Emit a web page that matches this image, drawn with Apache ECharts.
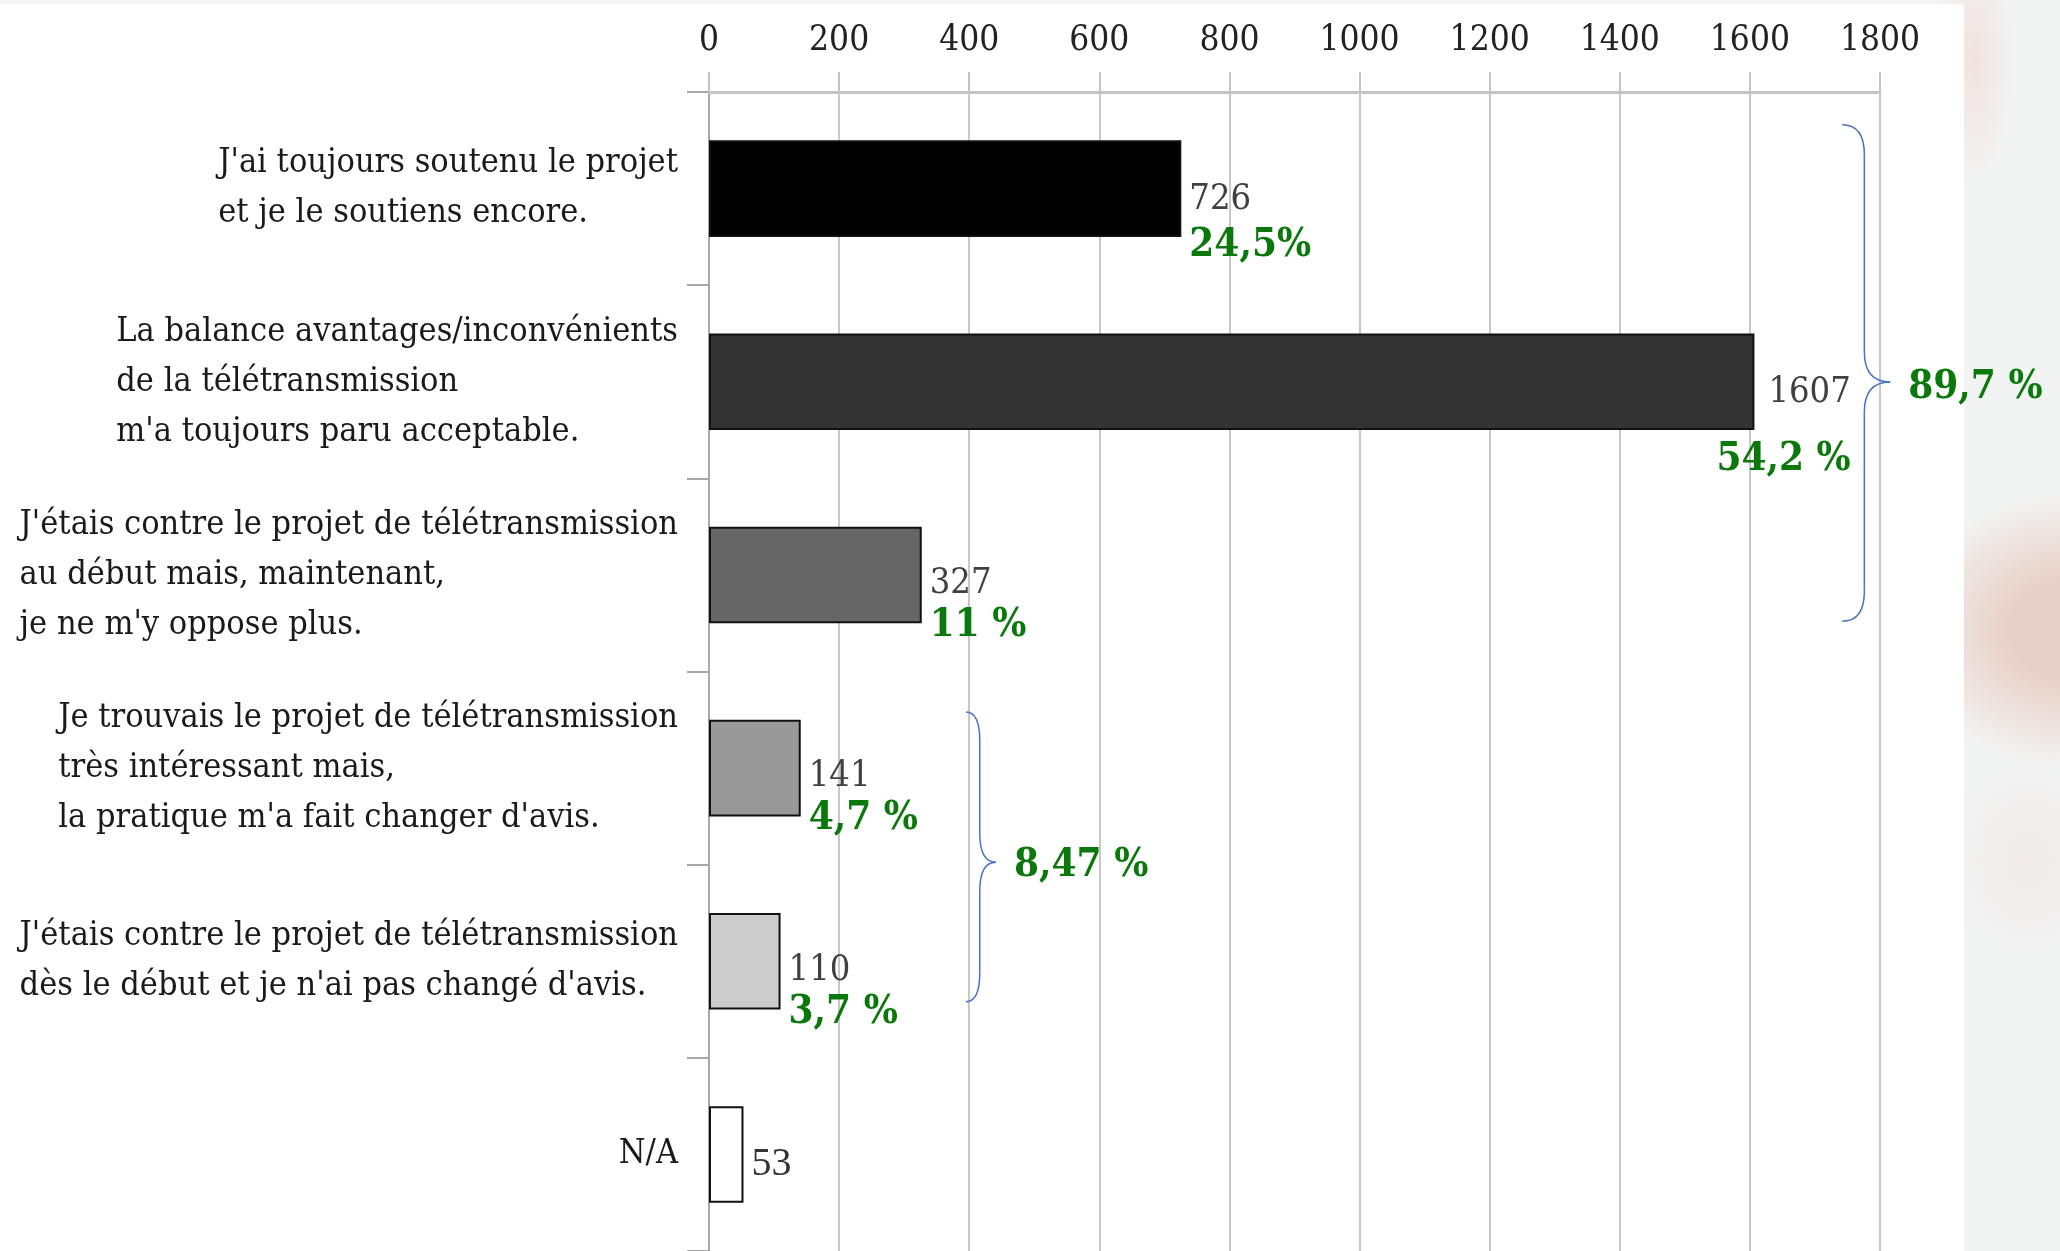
<!DOCTYPE html>
<html>
<head>
<meta charset="utf-8">
<script src="https://cdn.jsdelivr.net/npm/echarts@6/dist/echarts.min.js"></script>
<style>
  html, body { margin: 0; padding: 0; }
  body {
    width: 2060px; height: 1251px; overflow: hidden; position: relative;
    background:
      radial-gradient(ellipse 170px 140px at 2070px 630px, rgba(231,206,197,0.95) 35%, rgba(231,206,197,0) 100%),
      radial-gradient(ellipse 40px 130px at 1975px 60px, rgba(240,222,218,0.8), rgba(240,222,218,0) 100%),
      radial-gradient(ellipse 90px 110px at 2030px 860px, rgba(236,216,212,0.35), rgba(236,216,212,0) 100%),
      #f2f4f4;
  }
  #paper { position: absolute; left: 0; top: 4px; width: 1964px; height: 1247px; background: #fff; }
  #chart { position: absolute; left: 0; top: 0; width: 2060px; height: 1251px; }
</style>
</head>
<body>
<div id="paper"></div>
<div id="chart"></div>
<script>
// données
const categories = [
  "J'ai toujours soutenu le projet\net je le soutiens encore.",
  "La balance avantages/inconvénients\nde la télétransmission\nm'a toujours paru acceptable.",
  "J'étais contre le projet de télétransmission\nau début mais, maintenant,\nje ne m'y oppose plus.",
  "Je trouvais le projet de télétransmission\ntrès intéressant mais,\nla pratique m'a fait changer d'avis.",
  "J'étais contre le projet de télétransmission\ndès le début et je n'ai pas changé d'avis.",
  "N/A"
];
const counts = [726, 1607, 327, 141, 110, 53];
const shares = ['24,5%', '54,2 %', '11 %', '4,7 %', '3,7 %', ''];
const barColors = ['#000000', '#333333', '#666666', '#999999', '#cccccc', '#ffffff'];
const groups = [
  { from: 0, to: 2, text: '89,7 %' },
  { from: 3, to: 4, text: '8,47 %' }
];
const xMin = 0, xMax = 1800, xStep = 200;

// mise en page des accolades (valeur x de départ, largeur en px, débord haut/bas en fraction de bande)
const braceLayout = [
  { x: 1742, width: 48, top: 0.33, bottom: 0.24 },
  { x: 395, width: 30, top: 0.29, bottom: 0.21 }
];

const serif = "'DejaVu Serif Condensed', 'DejaVu Serif', serif";
const green = '#0a780a';
const shadow = { textShadowColor: '#000', textShadowOffsetX: -2.5, textShadowOffsetY: 2.5, textShadowBlur: 0 };

// quelques étiquettes placées à la main comme sur l'original
const labelTweaks = {
  0: { offset: [0, 34], rich: { v: { lineHeight: 46 }, p: { lineHeight: 46 } } },
  1: { offset: [-46, 44], rich: { v: { align: 'right', lineHeight: 67 }, p: { lineHeight: 67 } } },
  5: { offset: [0, 10] }
};

const chart = echarts.init(document.getElementById('chart'));

const option = {
  animation: false,
  grid: { left: 709, right: 180, top: 92, bottom: 0 },
  xAxis: {
    type: 'value',
    position: 'top',
    min: xMin,
    max: xMax,
    interval: xStep,
    axisLine: { show: true, lineStyle: { color: '#c4c4c4', width: 3 } },
    axisTick: { show: true, length: 20, lineStyle: { color: '#c4c4c4', width: 2 } },
    axisLabel: { margin: 34, fontFamily: serif, fontSize: 35, color: '#222', formatter: v => String(v) },
    splitLine: { show: true, lineStyle: { color: '#c8c8c8', width: 2 } }
  },
  yAxis: {
    type: 'category',
    inverse: true,
    data: categories,
    axisLine: { show: true, lineStyle: { color: '#a8a8a8', width: 2 } },
    axisTick: { show: true, length: 22, lineStyle: { color: '#a8a8a8', width: 2 } },
    axisLabel: {
      margin: 31,
      formatter: v => v.split('\n').map(s => '{a|' + s + '}').join('\n'),
      rich: {
        a: { fontFamily: serif, fontSize: 34, lineHeight: 50, color: '#1a1a1a', align: 'left' }
      }
    }
  },
  series: [{
    type: 'bar',
    barWidth: '50%',
    data: counts.map((v, i) => {
      const item = {
        value: v,
        itemStyle: { color: barColors[i], borderColor: '#111', borderWidth: 2 }
      };
      if (labelTweaks[i]) item.label = labelTweaks[i];
      return item;
    }),
    label: {
      show: true,
      position: 'right',
      distance: 8,
      offset: [0, 30],
      formatter: p => shares[p.dataIndex]
        ? '{v|' + p.value + '}\n{p|' + shares[p.dataIndex] + '}'
        : '{n|' + p.value + '}',
      rich: {
        v: { fontFamily: serif, fontSize: 36, color: '#404040', lineHeight: 42, align: 'left' },
        p: Object.assign({ fontFamily: serif, fontWeight: 'bold', fontSize: 40, color: green, lineHeight: 42, align: 'left' }, shadow),
        n: { fontFamily: "'Liberation Serif', serif", fontSize: 40, color: '#333', lineHeight: 42 }
      }
    }
  }]
};

chart.setOption(option);

// accolades et pourcentages regroupés, placés via les échelles
function braceParts(x0, y0, y1, w) {
  const h = y1 - y0;
  const xv = x0 + w * 0.46, xt = x0 + w, ym = (y0 + y1) / 2 + h * 0.018;
  const r = Math.min(30, h / 10);
  const st = { stroke: '#4a72c0', lineWidth: 1.5, fill: null };
  const curve = (x1, y1_, x2, y2, cx, cy) => ({ type: 'bezierCurve', shape: { x1: x1, y1: y1_, x2: x2, y2: y2, cpx1: cx, cpy1: cy }, style: st });
  const line = (x1, y1_, x2, y2) => ({ type: 'line', shape: { x1: x1, y1: y1_, x2: x2, y2: y2 }, style: st });
  return [
    curve(x0, y0, xv, y0 + r, xv, y0),
    line(xv, y0 + r, xv, ym - r),
    curve(xv, ym - r, xt, ym, xv, ym),
    curve(xt, ym, xv, ym + r, xv, ym),
    line(xv, ym + r, xv, y1 - r),
    curve(xv, y1 - r, x0, y1, xv, y1)
  ];
}

const band = chart.convertToPixel({ gridIndex: 0 }, [0, 1])[1] - chart.convertToPixel({ gridIndex: 0 }, [0, 0])[1];
const graphics = [];
groups.forEach((g, i) => {
  const lay = braceLayout[i];
  const pTop = chart.convertToPixel({ gridIndex: 0 }, [lay.x, g.from]);
  const pBot = chart.convertToPixel({ gridIndex: 0 }, [lay.x, g.to]);
  const y0 = pTop[1] - band * lay.top;
  const y1 = pBot[1] + band * lay.bottom;
  const x0 = pTop[0];
  braceParts(x0, y0, y1, lay.width).forEach(p => graphics.push(p));
  graphics.push({
    type: 'text',
    x: x0 + lay.width + 18,
    y: (y0 + y1) / 2 + (y1 - y0) * 0.03,
    style: Object.assign({
      text: g.text,
      fill: green,
      font: 'bold 40px ' + serif,
      align: 'left',
      verticalAlign: 'middle'
    }, shadow)
  });
});
chart.setOption({ graphic: graphics });
</script>
</body>
</html>
